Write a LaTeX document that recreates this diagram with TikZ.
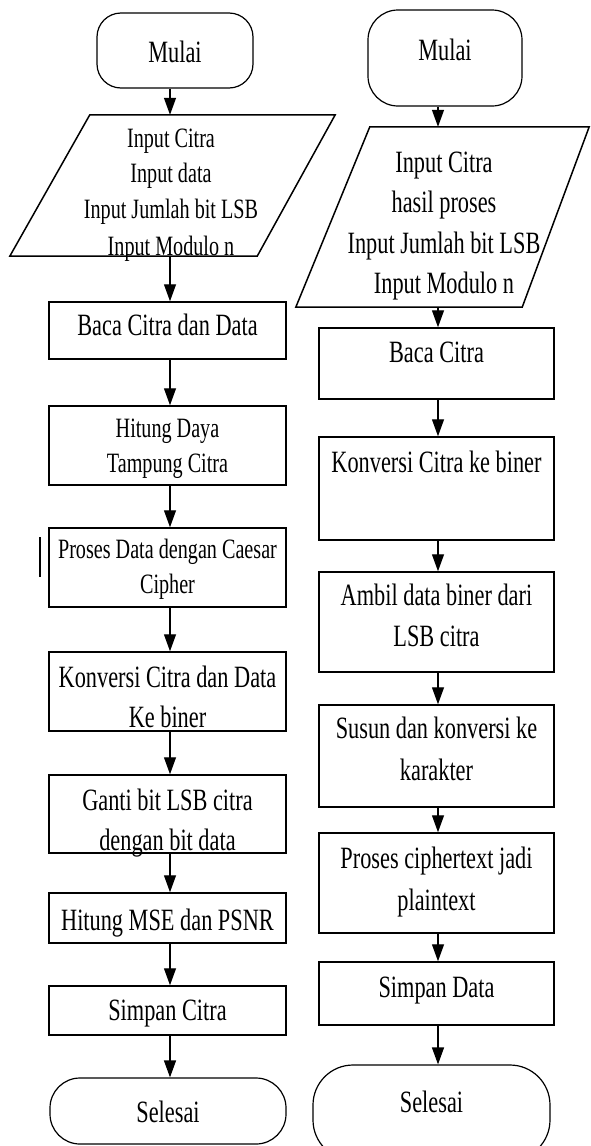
\documentclass[tikz,border=0pt]{standalone}
\usepackage{fontspec}
\setmainfont{Liberation Serif}[FakeStretch=0.72]
\usetikzlibrary{arrows.meta}
\tikzset{
  arr/.style={-{Triangle[length=17pt,width=12pt]}, line width=1.3pt},
  boxL/.style={draw, line width=1.5pt, minimum width=237pt, inner sep=0pt},
  boxR/.style={draw, line width=1.5pt, minimum width=235pt, inner sep=0pt},
  term/.style={draw, line width=1.2pt, inner sep=0pt},
  holder/.style={draw=none, inner sep=0pt},
  para/.style={line width=1.5pt},
  txt/.style={inner sep=0pt, anchor=base, font=\fontsize{31}{36}\selectfont},
  txts/.style={inner sep=0pt, anchor=base, font=\fontsize{28}{33}\selectfont},
}
\begin{document}
\begin{tikzpicture}[x=1pt,y=-1pt]
\fill[white] (0,0) rectangle (590,1146);
\useasboundingbox (0,0) rectangle (590,1146);
\coordinate (xL) at (170,0);
\coordinate (xR) at (438,0);

% ---------------- left column ----------------
\node[term, rounded corners=24pt, minimum width=156pt, minimum height=75pt] (mL) at (175,50.5) {};
\node[txt] (tmL) at (175,62) {Mulai};

\node[holder, minimum width=325pt, minimum height=141pt] (pL) at (172.5,185.5) {};
\draw[para] (pL.south west) -- ([xshift=-78pt]pL.south east) -- (pL.north east) -- ([xshift=80pt]pL.north west) -- cycle;
\node[txts] (tpL1) at (171,147) {Input Citra};
\node[txts] (tpL2) at (171,182) {Input data};
\node[txts] (tpL3) at (171,218) {Input Jumlah bit LSB};
\node[txts] (tpL4) at (171,255) {Input Modulo n};

\node[boxL, minimum height=57pt] (bL1) at (167.5,330.5) {};
\node[txt] (tbL1) at (167.5,335) {Baca Citra dan Data};

\node[boxL, minimum height=79pt] (bL2) at (167.5,445.5) {};
\node[txts] (tbL2a) at (167.5,437) {Hitung Daya};
\node[txts] (tbL2b) at (167.5,472) {Tampung Citra};

\node[boxL, minimum height=79pt] (bL3) at (167.5,567.5) {};
\node[txts] (tbL3a) at (167.5,558) {Proses Data dengan Caesar};
\node[txts] (tbL3b) at (167.5,593) {Cipher};
\draw[line width=1.2pt] (40,537) -- (40,577);

\node[boxL, minimum height=79pt] (bL4) at (167.5,691.5) {};
\node[txt] (tbL4a) at (167.5,687) {Konversi Citra dan Data};
\node[txt] (tbL4b) at (167.5,727) {Ke biner};

\node[boxL, minimum height=78pt] (bL5) at (167.5,814) {};
\node[txt] (tbL5a) at (167.5,810) {Ganti bit LSB citra};
\node[txt] (tbL5b) at (167.5,850) {dengan bit data};

\node[boxL, minimum height=50pt] (bL6) at (167.5,918) {};
\node[txt] (tbL6) at (167.5,930) {Hitung MSE dan PSNR};

\node[boxL, minimum height=49pt] (bL7) at (167.5,1010.5) {};
\node[txt] (tbL7) at (167.5,1020) {Simpan Citra};

\node[term, rounded corners=30pt, minimum width=236pt, minimum height=66pt] (sL) at (168,1111) {};
\node[txt] (tsL) at (168,1122) {Selesai};

\draw[arr] (mL.south -| xL) -- (pL.north -| xL);
\draw[arr] (pL.south -| xL) -- (bL1.north -| xL);
\draw[arr] (bL1.south -| xL) -- (bL2.north -| xL);
\draw[arr] (bL2.south -| xL) -- (bL3.north -| xL);
\draw[arr] (bL3.south -| xL) -- (bL4.north -| xL);
\draw[arr] (bL4.south -| xL) -- (bL5.north -| xL);
\draw[arr] (bL5.south -| xL) -- (bL6.north -| xL);
\draw[arr] (bL6.south -| xL) -- (bL7.north -| xL);
\draw[arr] (bL7.south -| xL) -- (sL.north -| xL);

% ---------------- right column ----------------
\node[term, rounded corners=30pt, minimum width=154pt, minimum height=96pt] (mR) at (445,58) {};
\node[txt] (tmR) at (445,60) {Mulai};

\node[holder, minimum width=293pt, minimum height=180pt] (pR) at (442.5,217) {};
\draw[para] (pR.south west) -- ([xshift=-67pt]pR.south east) -- (pR.north east) -- ([xshift=74pt]pR.north west) -- cycle;
\node[txt] (tpR1) at (444,172) {Input Citra};
\node[txt] (tpR2) at (444,212) {hasil proses};
\node[txt] (tpR3) at (444,253) {Input Jumlah bit LSB};
\node[txt] (tpR4) at (444,293) {Input Modulo n};

\node[boxR, minimum height=71pt] (bR1) at (436.5,363.5) {};
\node[txt] (tbR1) at (436.5,362) {Baca Citra};

\node[boxR, minimum height=103pt] (bR2) at (436.5,488.5) {};
\node[txt] (tbR2) at (436.5,472) {Konversi Citra ke biner};

\node[boxR, minimum height=100pt] (bR3) at (436.5,622) {};
\node[txt] (tbR3a) at (436.5,605) {Ambil data biner dari};
\node[txt] (tbR3b) at (436.5,646) {LSB citra};

\node[boxR, minimum height=102pt] (bR4) at (436.5,756) {};
\node[txt] (tbR4a) at (436.5,738) {Susun dan konversi ke};
\node[txt] (tbR4b) at (436.5,780) {karakter};

\node[boxR, minimum height=100pt] (bR5) at (436.5,883) {};
\node[txt] (tbR5a) at (436.5,868) {Proses ciphertext jadi};
\node[txt] (tbR5b) at (436.5,910) {plaintext};

\node[boxR, minimum height=63pt] (bR6) at (436.5,993.5) {};
\node[txt] (tbR6) at (436.5,997) {Simpan Data};

\node[term, rounded corners=40pt, minimum width=237pt, minimum height=95pt] (sR) at (431.5,1112.5) {};
\node[txt] (tsR) at (431.5,1112) {Selesai};

\draw[arr] (mR.south -| xR) -- (pR.north -| xR);
\draw[arr] (pR.south -| xR) -- (bR1.north -| xR);
\draw[arr] (bR1.south -| xR) -- (bR2.north -| xR);
\draw[arr] (bR2.south -| xR) -- (bR3.north -| xR);
\draw[arr] (bR3.south -| xR) -- (bR4.north -| xR);
\draw[arr] (bR4.south -| xR) -- (bR5.north -| xR);
\draw[arr] (bR5.south -| xR) -- (bR6.north -| xR);
\draw[arr] (bR6.south -| xR) -- (sR.north -| xR);
\end{tikzpicture}
\end{document}
